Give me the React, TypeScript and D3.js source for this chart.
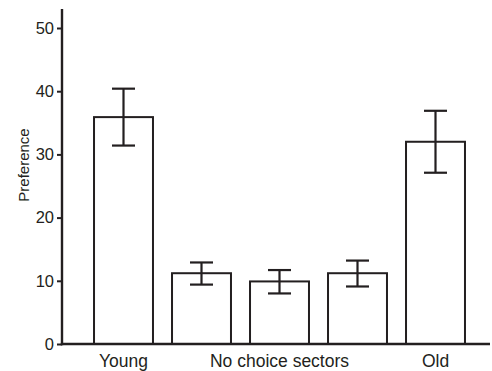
import { useEffect, useRef } from "react";
import * as d3 from "d3";

// bar data
const categories = ["young", "nc1", "nc2", "nc3", "old"];
const means = [35.9, 11.2, 9.9, 11.2, 32.0];
const errLow = [31.4, 9.4, 8.0, 9.1, 27.1];
const errHigh = [40.4, 12.9, 11.7, 13.2, 36.9];

// labels under the x axis, placed at the given bar
const xLabels = ["Young", "No choice sectors", "Old"];
const xLabelAt = ["young", "nc2", "old"];

const yTicks = [0, 10, 20, 30, 40, 50];

const INK = "#231f20";

export default function App() {
  const ref = useRef<SVGSVGElement>(null);

  useEffect(() => {
    const svg = d3.select(ref.current);
    svg.selectAll("*").remove();

    const width = 492, height = 371;
    const x0 = 62, yBase = 344;

    const x = d3.scaleBand<string>()
      .domain(categories)
      .range([84.5, 474.5])
      .paddingInner(0.244)
      .paddingOuter(0.122);

    const y = d3.scaleLinear()
      .domain([0, 50])
      .range([yBase, 28]);

    svg.attr("width", width).attr("height", height);

    const font = "Liberation Sans, Arial, Helvetica, sans-serif";

    // bars
    svg.append("g")
      .selectAll("rect")
      .data(categories)
      .join("rect")
      .attr("x", d => x(d)!)
      .attr("y", (d, i) => y(means[i]))
      .attr("width", x.bandwidth())
      .attr("height", (d, i) => yBase - y(means[i]))
      .attr("fill", "white")
      .attr("stroke", INK)
      .attr("stroke-width", 2);

    // error bars
    const capW = 23;
    const eb = svg.append("g").attr("stroke", INK).attr("stroke-width", 2.2);
    categories.forEach((c, i) => {
      const cx = x(c)! + x.bandwidth() / 2;
      eb.append("line").attr("x1", cx).attr("x2", cx)
        .attr("y1", y(errLow[i])).attr("y2", y(errHigh[i]));
      eb.append("line").attr("x1", cx - capW / 2).attr("x2", cx + capW / 2)
        .attr("y1", y(errLow[i])).attr("y2", y(errLow[i]));
      eb.append("line").attr("x1", cx - capW / 2).attr("x2", cx + capW / 2)
        .attr("y1", y(errHigh[i])).attr("y2", y(errHigh[i]));
    });

    // y axis
    const yAxis = svg.append("g")
      .attr("transform", `translate(${x0},0)`)
      .call(d3.axisLeft(y).tickValues(yTicks).tickSize(5).tickPadding(3).tickSizeOuter(0));
    yAxis.select(".domain").remove();
    yAxis.selectAll(".tick line").attr("stroke", INK).attr("stroke-width", 2);
    yAxis.selectAll(".tick text")
      .attr("fill", INK)
      .attr("font-family", font)
      .attr("font-size", 16.5);
    svg.append("line")
      .attr("x1", x0).attr("x2", x0)
      .attr("y1", 9).attr("y2", yBase + 1.2)
      .attr("stroke", INK).attr("stroke-width", 2.4);

    // x axis
    svg.append("line")
      .attr("x1", x0 - 1.2).attr("x2", 490)
      .attr("y1", yBase).attr("y2", yBase)
      .attr("stroke", INK).attr("stroke-width", 2.4);

    svg.append("g")
      .selectAll("text")
      .data(xLabels)
      .join("text")
      .attr("x", (d, i) => x(xLabelAt[i])! + x.bandwidth() / 2)
      .attr("y", 366.5)
      .attr("text-anchor", "middle")
      .attr("fill", INK)
      .attr("font-family", font)
      .attr("font-size", 17.5)
      .text(d => d);

    // y label
    svg.append("text")
      .attr("transform", "translate(29,165) rotate(-90)")
      .attr("text-anchor", "middle")
      .attr("fill", INK)
      .attr("font-family", font)
      .attr("font-size", 15)
      .text("Preference");
  }, []);

  return (
    <div style={{ position: "absolute", left: 0, top: 0 }}>
      <svg ref={ref} style={{ display: "block" }} />
    </div>
  );
}
